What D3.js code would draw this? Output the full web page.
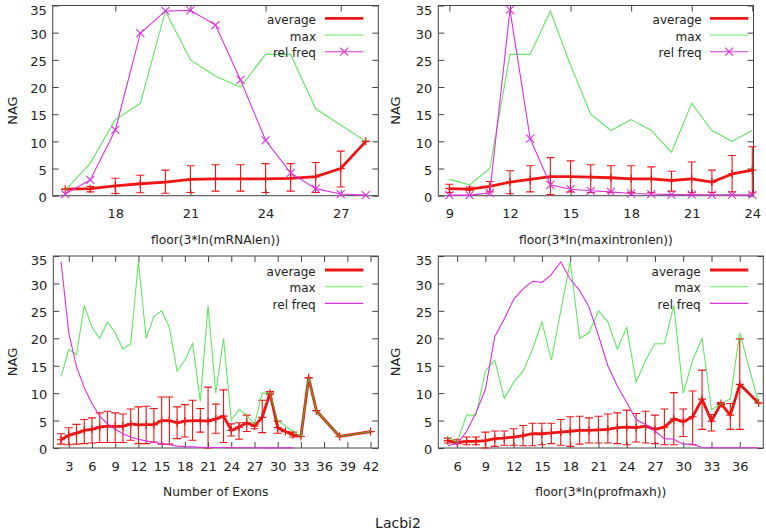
<!DOCTYPE html>
<html>
<head>
<meta charset="utf-8">
<script src="https://cdn.jsdelivr.net/npm/d3@7"></script>
<style>
  html, body { margin: 0; padding: 0; background: #fff; }
  svg { display: block; }
  text { font-family: "DejaVu Sans", Verdana, sans-serif; fill: #222; }
</style>
</head>
<body>
<svg id="chart" width="766" height="532"></svg>
<script>
// ---------- DATA ----------
const yTicks = [0, 5, 10, 15, 20, 25, 30, 35];
const legendLabels = ["average", "max", "rel freq"];
const figureTitle = "Lacbi2";

// Panel 1: floor(3*ln(mRNAlen))
const mrnaX      = [16, 17, 18, 19, 20, 21, 22, 23, 24, 25, 26, 27, 28];
const mrnaAvg    = [1.2, 1.3, 1.8, 2.2, 2.5, 3.0, 3.1, 3.1, 3.1, 3.2, 3.5, 5.0, 10.0];
const mrnaHi     = [1.2, 1.7, 3.2, 3.75, 4.7, 5.5, 5.7, 5.7, 5.9, 5.9, 6.1, 8.2, 10.0];
const mrnaLo     = [1.2, 0.7, 0.4, 0.55, 0.45, 0.6, 0.85, 0.85, 0.6, 0.85, 0.6, 1.6, 10.0];
const mrnaMax    = [1, 6, 14, 17, 34, 25, 22, 20, 26, 26, 16, 13, 10];
const mrnaRel    = [0.3, 2.9, 12.1, 29.9, 34.0, 34.1, 31.4, 21.3, 10.2, 4.2, 1.3, 0.3, 0.1];
const mrnaTicks  = [18, 21, 24, 27];

// Panel 2: floor(3*ln(maxintronlen))
const intronX    = [9, 10, 11, 12, 13, 14, 15, 16, 17, 18, 19, 20, 21, 22, 23, 24];
const intronAvg  = [1.3, 1.2, 1.7, 2.5, 3.0, 3.5, 3.5, 3.4, 3.3, 3.1, 3.1, 2.8, 3.1, 2.5, 4.0, 4.7];
const intronHi   = [2.1, 1.6, 2.6, 4.6, 5.5, 7.0, 6.4, 5.7, 5.5, 5.5, 5.3, 4.5, 6.2, 4.7, 7.4, 9.0];
const intronLo   = [0.6, 1.0, 0.7, 0.35, 0.7, 0.2, 0.7, 0.6, 0.6, 0.6, 0.6, 0.85, 0.6, 0.6, 0.7, 0.5];
const intronMax  = [3, 2, 5, 26, 26, 34, 24, 15, 12, 14, 12, 8, 17, 12, 10, 12];
const intronRel  = [0.1, 0.1, 0.5, 34.2, 10.5, 2.0, 1.2, 0.9, 0.7, 0.4, 0.3, 0.2, 0.2, 0.15, 0.15, 0.15];
const intronTicks = [9, 12, 15, 18, 21, 24];

// Panel 3: Number of Exons
const exonX      = [2, 3, 4, 5, 6, 7, 8, 9, 10, 11, 12, 13, 14, 15, 16, 17, 18, 19, 20, 21, 22, 23, 24, 25, 26, 27, 28, 29, 30, 31, 32, 33, 34, 35, 38, 42];
const exonAvg    = [1.5, 2.3, 2.7, 3.2, 3.4, 3.8, 4.0, 3.95, 3.95, 4.4, 4.2, 4.25, 4.25, 5.0, 5.0, 4.6, 4.9, 5.0, 5.0, 4.9, 5.3, 5.8, 3.2, 3.8, 4.6, 4.0, 5.6, 10.0, 3.7, 3.0, 2.4, 2.1, 12.8, 6.8, 2.1, 3.0];
const exonHi     = [2.6, 3.7, 4.3, 5.2, 5.5, 6.4, 6.7, 6.4, 6.2, 7.1, 7.5, 7.6, 7.2, 9.3, 9.3, 7.5, 7.9, 8.7, 7.2, 11.1, 8.0, 10.6, 4.4, 4.6, 6.0, 4.3, 8.7, 10.3, 4.9, 3.0, 2.9, 2.1, 12.8, 6.8, 2.1, 3.0];
const exonLo     = [0.7, 0.6, 0.7, 0.8, 0.9, 1.0, 1.0, 1.0, 1.0, 1.4, 0.8, 0.8, 1.1, 0.7, 0.7, 1.7, 2.0, 1.4, 2.9, 0.0, 2.7, 1.0, 2.2, 1.6, 3.0, 3.5, 2.8, 9.7, 2.7, 3.0, 2.0, 2.1, 12.8, 6.8, 2.1, 3.0];
const exonMax    = [13, 18, 17, 26, 22, 20, 23, 21, 18, 19, 34, 20, 24, 25, 22, 14, 16, 19, 8.5, 26, 10, 20, 5, 7, 6, 4.3, 10, 10, 5, 4, 3, 2.1, 12.8, 6.8, 2.1, 3.0];
const exonRelX   = [2, 3, 4, 5, 6, 7, 8, 9, 10, 11, 12, 13, 14, 15, 16, 17, 18, 19, 20, 21, 22, 23, 24, 25, 26, 27, 28, 29, 30, 31, 32];
const exonRel    = [34, 21, 14.8, 11, 8.1, 5.8, 4.4, 3.4, 2.6, 2.0, 1.6, 1.3, 1.0, 0.8, 0.6, 0.35, 0.25, 0.2, 0.15, 0.1, 0.1, 0.08, 0.06, 0.05, 0.04, 0.04, 0.03, 0.03, 0.02, 0.02, 0.02];
const exonTicks  = [3, 6, 9, 12, 15, 18, 21, 24, 27, 30, 33, 36, 39, 42];

// Panel 4: floor(3*ln(profmaxh))
const profX      = [5, 6, 7, 8, 9, 10, 11, 12, 13, 14, 15, 16, 17, 18, 19, 20, 21, 22, 23, 24, 25, 26, 27, 28, 29, 30, 31, 32, 33, 34, 35, 36, 38];
const profAvg    = [1.35, 1.0, 1.2, 1.2, 1.35, 1.7, 1.8, 2.0, 2.25, 2.6, 2.6, 2.75, 2.9, 3.05, 3.2, 3.2, 3.3, 3.4, 3.7, 3.8, 3.7, 4.0, 3.4, 3.8, 5.3, 4.8, 5.7, 8.9, 4.9, 8.1, 6.0, 11.6, 8.2];
const profHi     = [1.8, 1.5, 2.0, 2.0, 2.9, 3.1, 3.1, 3.5, 4.1, 4.5, 4.5, 4.5, 5.2, 5.7, 5.8, 5.5, 5.8, 6.2, 6.4, 6.9, 6.3, 6.7, 6.0, 7.1, 10.1, 7.1, 10.4, 14.2, 6.1, 8.3, 8.1, 19.9, 8.2];
const profLo     = [0.9, 0.8, 0.6, 0.6, 0.0, 0.3, 0.5, 0.5, 0.4, 0.4, 0.6, 0.8, 0.5, 0.3, 0.7, 0.9, 0.9, 0.9, 0.8, 0.6, 1.1, 0.9, 0.8, 0.6, 0.6, 2.1, 0.6, 3.4, 3.1, 7.9, 3.4, 3.4, 8.2];
const profMax    = [2, 1, 6, 6, 14, 16, 9, 12, 14, 18, 23, 16, 25, 34, 20, 21, 25, 23, 18, 22, 12, 16, 19, 19, 26, 10, 16, 20, 7, 8, 9, 21, 8.2];
const profRel    = [0.4, 0.8, 3.0, 6.4, 10.7, 20.3, 23.5, 27.1, 29.0, 30.4, 30.2, 31.6, 33.9, 30.8, 28.7, 25.7, 20.5, 15.0, 11.3, 8.3, 5.2, 4.3, 3.1, 1.7, 1.6, 0.7, 0.7, 0.1, 0.05, 0.05, 0.05, 0.05, 0.05];
const profTicks  = [6, 9, 12, 15, 18, 21, 24, 27, 30, 33, 36];

// ---------- STYLE / LAYOUT ----------
const C_RED = "#ee1515", C_GREEN = "#2fdc2f", C_MAG = "#dd30dd", C_FRAME = "#444";
const svg = d3.select("#chart");

const panels = [
  { x: mrnaX, avg: mrnaAvg, hi: mrnaHi, lo: mrnaLo, max: mrnaMax, relX: mrnaX, rel: mrnaRel,
    ticks: mrnaTicks, xDomain: [15.5, 28.5], label: "floor(3*ln(mRNAlen))", relMarks: true,
    left: 52.7, right: 378.3, top: 5.5, bottom: 195.7, leg: { tr: 316, s0: 325, s1: 363.3, y0: 18.3 }, ylabX: 12 },
  { x: intronX, avg: intronAvg, hi: intronHi, lo: intronLo, max: intronMax, relX: intronX, rel: intronRel,
    ticks: intronTicks, xDomain: [8.45, 24.06], label: "floor(3*ln(maxintronlen))", relMarks: true,
    left: 438.3, right: 753.5, top: 5.5, bottom: 195.7, leg: { tr: 701.7, s0: 710, s1: 748.3, y0: 18.3 }, ylabX: 395 },
  { x: exonX, avg: exonAvg, hi: exonHi, lo: exonLo, max: exonMax, relX: exonRelX, rel: exonRel,
    ticks: exonTicks, xDomain: [1, 43], label: "Number of Exons", relMarks: false,
    left: 53.3, right: 378.3, top: 256, bottom: 448, leg: { tr: 315.7, s0: 325, s1: 363.3, y0: 270 }, ylabX: 12 },
  { x: profX, avg: profAvg, hi: profHi, lo: profLo, max: profMax, relX: profX, rel: profRel,
    ticks: profTicks, xDomain: [4, 38.5], label: "floor(3*ln(profmaxh))", relMarks: false,
    left: 438.3, right: 763.3, top: 256, bottom: 448, leg: { tr: 700.7, s0: 710, s1: 748.3, y0: 270 }, ylabX: 395 }
];

function drawPanel(p) {
  const g = svg.append("g");
  const x = d3.scaleLinear().domain(p.xDomain).range([p.left, p.right]);
  const y = d3.scaleLinear().domain([0, 35]).range([p.bottom, p.top]);
  const T = 6;

  // axes with inward ticks
  const axL = g.append("g").attr("transform", `translate(${p.left},0)`)
    .call(d3.axisLeft(y).tickValues(yTicks).tickSize(-T).tickPadding(6).tickFormat(d3.format("d")));
  const axR = g.append("g").attr("transform", `translate(${p.right},0)`)
    .call(d3.axisRight(y).tickValues(yTicks).tickSize(-T).tickFormat(""));
  const axT = g.append("g").attr("transform", `translate(0,${p.top})`)
    .call(d3.axisTop(x).tickValues(p.ticks).tickSize(-T).tickFormat(""));
  const axB = g.append("g").attr("transform", `translate(0,${p.bottom})`)
    .call(d3.axisBottom(x).tickValues(p.ticks).tickSize(-T).tickPadding(13.5).tickFormat(d3.format("d")));
  [axL, axR, axT, axB].forEach(a => {
    a.select(".domain").remove();
    a.selectAll(".tick line").attr("stroke", C_FRAME).attr("stroke-width", 1);
    a.selectAll("text").attr("font-size", 13).attr("fill", "#222")
      .attr("font-family", "DejaVu Sans, sans-serif");
  });
  // the top label sits slightly lower, as in the reference
  axL.selectAll(".tick text").attr("transform", d => `translate(0,${d === yTicks[yTicks.length - 1] ? 4.5 : 1.5})`);

  // frame
  g.append("rect").attr("x", p.left).attr("y", p.top)
    .attr("width", p.right - p.left).attr("height", p.bottom - p.top)
    .attr("fill", "none").attr("stroke", C_FRAME).attr("stroke-width", 1);

  // labels
  g.append("text").attr("transform", `translate(${p.ylabX + 4.5},${(p.top + p.bottom) / 2 + 10}) rotate(-90)`)
    .attr("text-anchor", "middle").attr("font-size", 13).text("NAG");
  g.append("text").attr("x", (p.left + p.right) / 2).attr("y", p.bottom + 48)
    .attr("text-anchor", "middle").attr("font-size", 12.3).text(p.label);

  const idx = d3.range(p.x.length);
  // error bars
  const eb = g.append("g").attr("stroke", C_RED).attr("stroke-width", 1.1).attr("fill", "none");
  const cap = 4;
  eb.selectAll("path").data(idx).join("path")
    .attr("d", i => {
      const xx = x(p.x[i]), yh = y(p.hi[i]), yl = y(p.lo[i]);
      return `M${xx},${yl}V${yh}M${xx - cap},${yh}H${xx + cap}M${xx - cap},${yl}H${xx + cap}`;
    });
  // average line
  g.append("path").datum(idx).attr("fill", "none").attr("stroke", C_RED).attr("stroke-width", 2.8)
    .attr("stroke-linejoin", "round")
    .attr("d", d3.line().x(i => x(p.x[i])).y(i => y(p.avg[i])));
  // + markers
  g.append("g").attr("stroke", C_RED).attr("stroke-width", 1.2).selectAll("path").data(idx).join("path")
    .attr("d", i => { const xx = x(p.x[i]), yy = y(p.avg[i]);
      return `M${xx - 4},${yy}H${xx + 4}M${xx},${yy - 4}V${yy + 4}`; });
  // max line
  g.append("path").datum(idx).attr("fill", "none").attr("stroke", C_GREEN).attr("stroke-opacity", 0.75)
    .attr("stroke-width", 1.1)
    .attr("d", d3.line().x(i => x(p.x[i])).y(i => y(p.max[i])));
  // rel freq
  const ridx = d3.range(p.relX.length);
  g.append("path").datum(ridx).attr("fill", "none").attr("stroke", C_MAG).attr("stroke-width", 1.1)
    .attr("d", d3.line().x(i => x(p.relX[i])).y(i => y(p.rel[i])));
  if (p.relMarks) {
    g.append("g").attr("stroke", C_MAG).attr("stroke-width", 1.1).selectAll("path").data(ridx).join("path")
      .attr("d", i => { const xx = x(p.relX[i]), yy = y(p.rel[i]);
        return `M${xx - 4},${yy - 4}L${xx + 4},${yy + 4}M${xx - 4},${yy + 4}L${xx + 4},${yy - 4}`; });
  }

  // legend
  const L = p.leg, dy = 16.7;
  const styles = [
    { c: C_RED, w: 2.8, op: 1 },
    { c: C_GREEN, w: 1.1, op: 0.75 },
    { c: C_MAG, w: 1.1, op: 1 }
  ];
  legendLabels.forEach((lab, k) => {
    const yy = L.y0 + k * dy;
    g.append("text").attr("x", L.tr).attr("y", yy + 5.7).attr("text-anchor", "end")
      .attr("font-size", 12).text(lab);
    g.append("line").attr("x1", L.s0).attr("x2", L.s1).attr("y1", yy).attr("y2", yy)
      .attr("stroke", styles[k].c).attr("stroke-width", styles[k].w).attr("stroke-opacity", styles[k].op);
    if (k === 2 && p.relMarks) {
      const mx = (L.s0 + L.s1) / 2;
      g.append("path").attr("stroke", C_MAG).attr("stroke-width", 1.1)
        .attr("d", `M${mx - 4},${yy - 4}L${mx + 4},${yy + 4}M${mx - 4},${yy + 4}L${mx + 4},${yy - 4}`);
    }
  });
}

panels.forEach(drawPanel);

svg.append("text").attr("x", 398).attr("y", 528).attr("text-anchor", "middle")
  .attr("font-size", 14).text(figureTitle);
</script>
</body>
</html>
